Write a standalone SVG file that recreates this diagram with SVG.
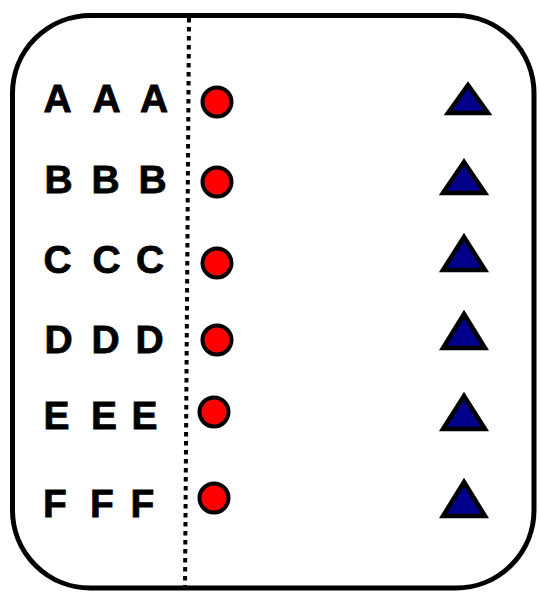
<svg xmlns="http://www.w3.org/2000/svg" width="539" height="593" viewBox="0 0 539 593">
<style>
.lbl{font-family:"Liberation Sans",Arial,sans-serif;font-weight:bold;font-size:39px;fill:#000;stroke:#000;stroke-width:0.8;text-anchor:middle}
.dot{fill:#ff0000;stroke:#000;stroke-width:4}
.tri{fill:#00008b;stroke:#000;stroke-width:4.5;stroke-linejoin:miter}
</style>
<rect width="539" height="593" fill="#fff"/>
<g id="frame">
<rect x="12.5" y="15.5" width="521.5" height="572.5" rx="78" ry="78" fill="none" stroke="#000" stroke-width="5"/>
</g>
<g id="connectors">
<line x1="189" y1="18" x2="185" y2="588" stroke="#000" stroke-width="4" stroke-dasharray="4.5 4.5"/>
</g>
<g id="row-A">
<text class="lbl" x="57.5" y="112">A</text><text class="lbl" x="106.5" y="112">A</text><text class="lbl" x="154" y="112">A</text>
<circle class="dot" cx="217" cy="102" r="14.5"/>
<path class="tri" d="M468,85 L488,113 L448,113 Z"/>
</g>
<g id="row-B">
<text class="lbl" x="58.5" y="193">B</text><text class="lbl" x="105.5" y="193">B</text><text class="lbl" x="152.5" y="193">B</text>
<circle class="dot" cx="217" cy="182" r="14.5"/>
<path class="tri" d="M464,162 L485,193 L443,193 Z"/>
</g>
<g id="row-C">
<text class="lbl" x="57.5" y="273">C</text><text class="lbl" x="106.5" y="273">C</text><text class="lbl" x="150" y="273">C</text>
<circle class="dot" cx="217" cy="263" r="14.5"/>
<path class="tri" d="M464,237 L485,270 L443,270 Z"/>
</g>
<g id="row-D">
<text class="lbl" x="58.5" y="353">D</text><text class="lbl" x="105.5" y="353">D</text><text class="lbl" x="149.5" y="353">D</text>
<circle class="dot" cx="217" cy="340" r="14.5"/>
<path class="tri" d="M464,314 L485,348 L443,348 Z"/>
</g>
<g id="row-E">
<text class="lbl" x="56.5" y="429">E</text><text class="lbl" x="104" y="429">E</text><text class="lbl" x="144.5" y="429">E</text>
<circle class="dot" cx="214" cy="412" r="14.5"/>
<path class="tri" d="M464,396 L485,429 L443,429 Z"/>
</g>
<g id="row-F">
<text class="lbl" x="55" y="517">F</text><text class="lbl" x="102" y="517">F</text><text class="lbl" x="142.5" y="517">F</text>
<circle class="dot" cx="214" cy="498" r="14.5"/>
<path class="tri" d="M464,482 L485,516 L443,516 Z"/>
</g>
</svg>
